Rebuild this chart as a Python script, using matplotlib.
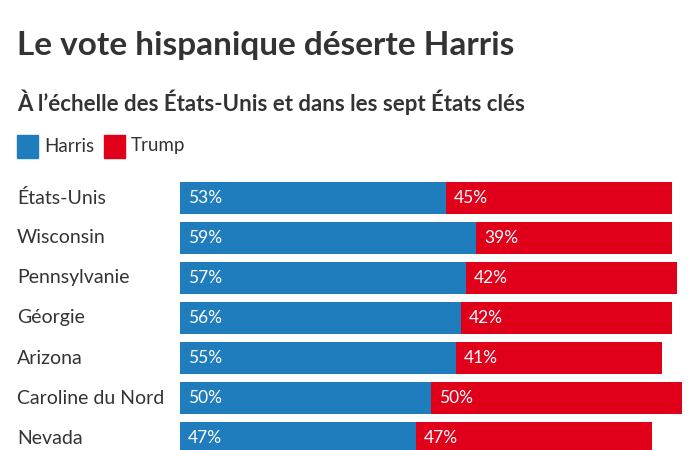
import matplotlib
matplotlib.use("Agg")
import matplotlib.pyplot as plt
from matplotlib.patches import Rectangle

plt.rcParams['font.family'] = ['Lato', 'DejaVu Sans']

states = ["États-Unis", "Wisconsin", "Pennsylvanie", "Géorgie", "Arizona",
          "Caroline du Nord", "Nevada"]
harris = [53, 59, 57, 56, 55, 50, 47]
trump = [45, 39, 42, 42, 41, 50, 47]
series_names = ["Harris", "Trump"]
colors = ["#1f7cbd", "#e1001a"]
title = "Le vote hispanique déserte Harris"
subtitle = "À l’échelle des États-Unis et dans les sept États clés"

W, H = 700, 450
fig = plt.figure(figsize=(7, 4.5), dpi=100)
fig.patch.set_facecolor("white")

def fx(px):
    return px / W

def fy(py):
    return 1 - py / H

txt = "#333333"
fig.text(fx(17), fy(45), title, fontsize=24, fontweight="bold", color=txt,
         va="center", ha="left")
fig.text(fx(17), fy(102), subtitle, fontsize=16, fontweight="bold", color=txt,
         va="center", ha="left")

# legend
lx = [17, 104]
for i, name in enumerate(series_names):
    fig.patches.append(Rectangle((fx(lx[i]), fy(158)), 21 / W, 23 / H,
                                 transform=fig.transFigure, color=colors[i]))
    fig.text(fx(lx[i] + 27), fy(146), name, fontsize=13.5, color=txt,
             va="center", ha="left")

ax = fig.add_axes([fx(180), 0, 502 / W, (H - 178) / H])
ax.set_xlim(0, 100)
ax.set_ylim(6.3, -0.5)
ax.axis("off")

ys = list(range(len(states)))
ax.barh(ys, harris, height=0.82, color=colors[0])
ax.barh(ys, trump, left=harris, height=0.82, color=colors[1])

for y, s, h, t in zip(ys, states, harris, trump):
    ax.text(1.6, y, f"{h}%", color="white", fontsize=12.5, va="center", ha="left")
    ax.text(h + 1.6, y, f"{t}%", color="white", fontsize=12.5, va="center", ha="left")
    fig.text(fx(17), fy(198 + 40 * y), s, fontsize=14, color=txt,
             va="center", ha="left")

fig.savefig("out.png", dpi=100)
